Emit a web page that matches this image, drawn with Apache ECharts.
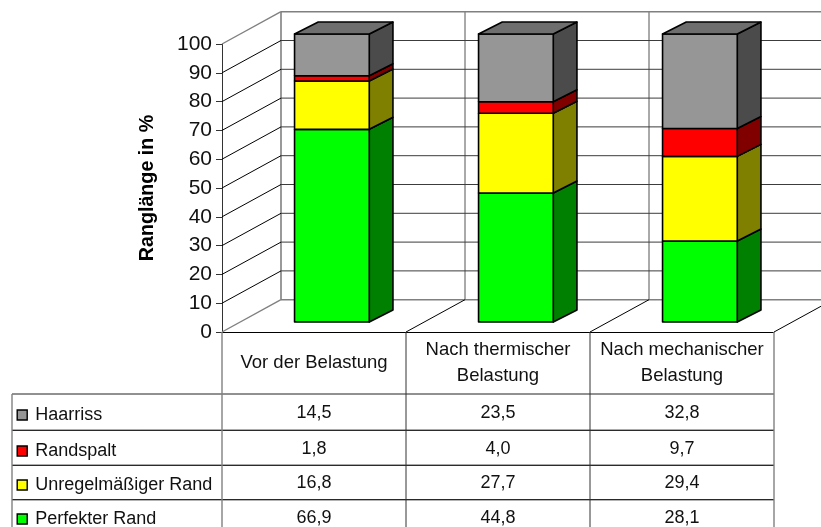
<!DOCTYPE html>
<html><head><meta charset="utf-8">
<style>html,body{margin:0;padding:0;background:#fff}#c{width:821px;height:527px}</style>
<script src="https://cdn.jsdelivr.net/npm/echarts@6/dist/echarts.min.js"></script>
</head><body><div id="c"></div>
<script>
const categories = ['Vor der Belastung', 'Nach thermischer\nBelastung', 'Nach mechanischer\nBelastung'];
const seriesNames = ['Perfekter Rand', 'Unregelmäßiger Rand', 'Randspalt', 'Haarriss'];
const perfekterRand = [66.9, 44.8, 28.1];
const unregelmaessigerRand = [16.8, 27.7, 29.4];
const randspalt = [1.8, 4.0, 9.7];
const haarriss = [14.5, 23.5, 32.8];
const yTicks = [0, 10, 20, 30, 40, 50, 60, 70, 80, 90, 100];

const seriesValues = [perfekterRand, unregelmaessigerRand, randspalt, haarriss];
const frontColors = ['#00ff00', '#ffff00', '#ff0000', '#969696'];
const sideColors = ['#008000', '#808000', '#800000', '#4b4b4b'];
const topColors = ['#00c000', '#c0c000', '#c00000', '#6e6e6e'];

const FONT = '"Liberation Sans", Arial, sans-serif';
const WALL_DX = 59, WALL_DY = -32.3;      // depth of the floor
const BAR_OFF_DX = 17.9, BAR_OFF_DY = -10; // front of the bars behind the front edge
const BAR_DX = 23.7, BAR_DY = -12;         // depth of a bar
const BAR_W = 74.7;
const ROW_LINES = [394, 430.3, 465.3, 499.7, 534];
const LEGEND_LEFT = 12;
const GRAY = '#808080';

const chart = echarts.init(document.getElementById('c'), null, {renderer: 'canvas'});

function line(x1, y1, x2, y2, stroke, lineWidth) {
  return {type: 'line', shape: {x1, y1, x2, y2}, style: {stroke, lineWidth: lineWidth || 1, fill: null}, silent: true};
}
function poly(points, fill) {
  return {type: 'polygon', shape: {points}, style: {fill, stroke: '#000', lineWidth: 1.6, lineJoin: 'round'}, silent: true};
}

// back wall, side wall and floor
function renderFrame(params, api) {
  const v = api.value(0);
  const band = api.size([1, 0])[0];
  const p = api.coord([0, v]);
  const xL = p[0] - band / 2;
  const xR = xL + band * categories.length;
  const y = p[1];
  const edge = v === 0 || v === 100;
  const stroke = edge ? GRAY : '#000';
  const back = edge ? GRAY : '#3c3c3c';
  const kids = [
    line(xL, y, xL + WALL_DX, y + WALL_DY, stroke, edge ? 1.4 : 1),
    line(xL + WALL_DX, y + WALL_DY, xR + WALL_DX, y + WALL_DY, back, edge ? 1.6 : 1)
  ];
  if (v === 0) {
    const top = api.coord([0, 100])[1];
    for (let i = 0; i <= categories.length; i++) {
      const x = xL + band * i;
      if (i > 0) kids.push(line(x, y, x + WALL_DX, y + WALL_DY, '#000', 1));
      kids.push(line(x + WALL_DX, y + WALL_DY, x + WALL_DX, top + WALL_DY, i === 0 ? GRAY : '#555', i === 0 ? 1.6 : 1));
    }
  }
  return {type: 'group', children: kids};
}

function makeBarRenderer(sIdx) {
  return function (params, api) {
    const cat = api.value(0);
    const base = api.value(1), top = api.value(2);
    const band = api.coord([cat, base]);
    const yb = band[1] + BAR_OFF_DY;
    const yt = api.coord([cat, top])[1] + BAR_OFF_DY;
    const x0 = band[0] - BAR_W / 2 + BAR_OFF_DX;
    const x1 = x0 + BAR_W;
    const kids = [
      poly([[x1, yb], [x1 + BAR_DX, yb + BAR_DY], [x1 + BAR_DX, yt + BAR_DY], [x1, yt]], sideColors[sIdx]),
      poly([[x0, yb], [x1, yb], [x1, yt], [x0, yt]], frontColors[sIdx])
    ];
    if (sIdx === seriesValues.length - 1) {
      kids.push(poly([[x0, yt], [x1, yt], [x1 + BAR_DX, yt + BAR_DY], [x0 + BAR_DX, yt + BAR_DY]], topColors[sIdx]));
    }
    return {type: 'group', children: kids};
  };
}

// data table under the plot, one data item per series row
function renderTableRow(params, api) {
  const row = api.value(0);
  const band = api.size([1, 0])[0];
  const x0 = api.coord([0, 0])[0] - band / 2;
  const xEnd = x0 + band * categories.length;
  const yTop = ROW_LINES[row], yBot = ROW_LINES[row + 1];
  const kids = [
    line(LEGEND_LEFT, yTop, xEnd, yTop, '#222', 1),
    line(LEGEND_LEFT, yBot, xEnd, yBot, '#222', 1)
  ];
  const sIdx = seriesValues.length - 1 - row;
  categories.forEach((c, i) => {
    kids.push({
      type: 'text', silent: true,
      style: {
        text: seriesValues[sIdx][i].toFixed(1).replace('.', ','),
        x: x0 + band * (i + 0.5), y: (yTop + yBot) / 2 + 1,
        align: 'center', verticalAlign: 'middle',
        fontSize: 18, fontFamily: FONT, fill: '#111'
      }
    });
  });
  return {type: 'group', children: kids};
}

// vertical table rules
function renderTableCols(params, api) {
  const band = api.size([1, 0])[0];
  const p = api.coord([0, 0]);
  const x0 = p[0] - band / 2;
  const yEnd = ROW_LINES[ROW_LINES.length - 1];
  const kids = [line(LEGEND_LEFT, ROW_LINES[0], LEGEND_LEFT, yEnd, GRAY, 1.4)];
  for (let i = 0; i <= categories.length; i++) {
    const x = x0 + band * i;
    const outer = i === 0 || i === categories.length;
    kids.push(line(x, p[1], x, yEnd, outer ? GRAY : '#333', outer ? 1.4 : 1));
  }
  return {type: 'group', children: kids};
}

const legendTops = [406, 442, 476, 510];
const legendNames = seriesNames.slice().reverse();

const barSeries = seriesNames.map((name, s) => {
  const data = categories.map((c, i) => {
    let base = 0;
    for (let k = 0; k < s; k++) base += seriesValues[k][i];
    return [i, base, base + seriesValues[s][i]];
  });
  return {
    type: 'custom', name, renderItem: makeBarRenderer(s), data, z: 3 + s,
    clip: false, encode: {x: 0, y: [1, 2]},
    itemStyle: {color: frontColors[s]}
  };
});

chart.setOption({
  animation: false,
  backgroundColor: '#ffffff',
  textStyle: {fontFamily: FONT},
  grid: {left: 222, right: 47, top: 44, bottom: 195, containLabel: false},
  legend: legendNames.map((name, i) => ({
    data: [name], orient: 'horizontal', left: 16.5, top: legendTops[i],
    padding: 0, itemWidth: 10, itemHeight: 10, itemGap: 0,
    icon: 'rect', selectedMode: false,
    itemStyle: {borderColor: '#000', borderWidth: 1.4},
    textStyle: {fontSize: 18, color: '#111', fontFamily: FONT, padding: [0, 0, 0, 3]}
  })),
  xAxis: {
    type: 'category', data: categories,
    axisLine: {show: true, lineStyle: {color: '#000', width: 1}},
    axisTick: {show: false},
    splitLine: {show: false},
    axisLabel: {
      interval: 0, margin: 31, color: '#111', fontSize: 18.5, fontFamily: FONT,
      lineHeight: 26.5, verticalAlign: 'middle', align: 'center'
    }
  },
  yAxis: {
    type: 'value', min: 0, max: 100, interval: 10,
    name: 'Ranglänge in %', nameLocation: 'middle', nameGap: 64, nameRotate: 90,
    nameTextStyle: {fontSize: 19.7, fontWeight: 'bold', color: '#000', fontFamily: FONT},
    axisLine: {show: true, lineStyle: {color: '#333', width: 1}},
    axisTick: {show: true, length: 6, lineStyle: {color: '#333', width: 1}},
    axisLabel: {color: '#111', fontSize: 21, margin: 10, fontFamily: FONT},
    splitLine: {show: false}
  },
  series: [
    {type: 'custom', name: '_frame', renderItem: renderFrame, data: yTicks.map(v => [v]), encode: {y: 0}, z: 1, clip: false, silent: true},
    {type: 'custom', name: '_rows', renderItem: renderTableRow, data: seriesNames.map((n, i) => [i]), encode: {}, z: 2, clip: false, silent: true},
    {type: 'custom', name: '_cols', renderItem: renderTableCols, data: [[0]], encode: {}, z: 2, clip: false, silent: true}
  ].concat(barSeries)
});
</script></body></html>
